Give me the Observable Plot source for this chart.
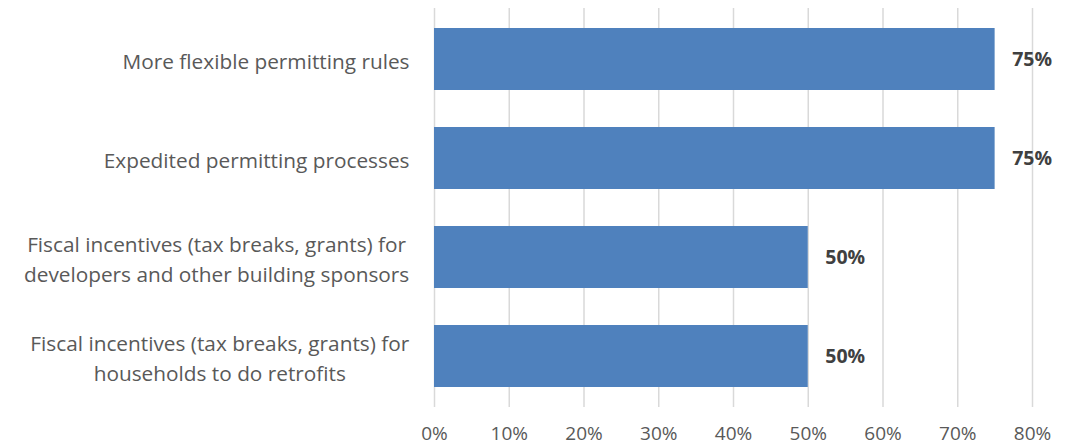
<!DOCTYPE html>
<html>
<head>
<meta charset="utf-8">
<script src="https://cdn.jsdelivr.net/npm/d3@7"></script>
<script src="https://cdn.jsdelivr.net/npm/@observablehq/plot@0.6"></script>
<style>
  html, body { margin: 0; padding: 0; background: #fff; }
  #chart svg { display: block; }
</style>
</head>
<body>
<div id="chart"></div>
<script>
const categories = [
  "More flexible permitting rules",
  "Expedited permitting processes",
  "Fiscal incentives (tax breaks, grants) for\ndevelopers and other building sponsors",
  "Fiscal incentives (tax breaks, grants) for\nhouseholds to do retrofits"
];
const values = [0.75, 0.75, 0.50, 0.50];
const xTicks = [0, 0.1, 0.2, 0.3, 0.4, 0.5, 0.6, 0.7, 0.8];

const data = categories.map((c, i) => ({category: c, value: values[i]}));

const chart = Plot.plot({
  width: 1078,
  height: 447,
  marginLeft: 434,
  marginRight: 46,
  marginTop: 8,
  marginBottom: 40,
  style: {fontFamily: "'Open Sans', Lato, sans-serif", background: "#fff", overflow: "visible"},
  x: {domain: [0, 0.8], ticks: xTicks},
  y: {domain: categories, paddingInner: 0.37, paddingOuter: 0.185},
  marks: [
    Plot.ruleX(xTicks, {stroke: "#d9d9d9", strokeWidth: 1.5}),
    Plot.barX(data, {x: "value", y: "category", fill: "#4F81BD"}),
    Plot.text(data, {
      x: "value", y: "category",
      text: d => `${Math.round(d.value * 100)}%`,
      textAnchor: "start", dx: 17,
      fontSize: 19.5, fontWeight: "bold", fill: "#404040"
    }),
    Plot.axisX({
      ticks: xTicks, tickSize: 0, tickPadding: 19,
      tickFormat: d => `${Math.round(d * 100)}%`,
      fontSize: 19, color: "#595959", label: null
    }),
    Plot.axisY({
      tickSize: 0, tickPadding: 25, fontSize: 20.8, color: "#595959",
      label: null, lineHeight: 1.45, textAnchor: "end"
    })
  ]
});
document.getElementById("chart").appendChild(chart);

// Centre the lines of multi-line category labels within their right-aligned block
d3.select(chart).selectAll("g[aria-label='y-axis tick label'] text").each(function() {
  const tspans = this.querySelectorAll("tspan");
  if (tspans.length > 1) {
    const w = this.getBBox().width;
    this.setAttribute("text-anchor", "middle");
    tspans.forEach(t => t.setAttribute("x", -w / 2));
  }
});
</script>
</body>
</html>
